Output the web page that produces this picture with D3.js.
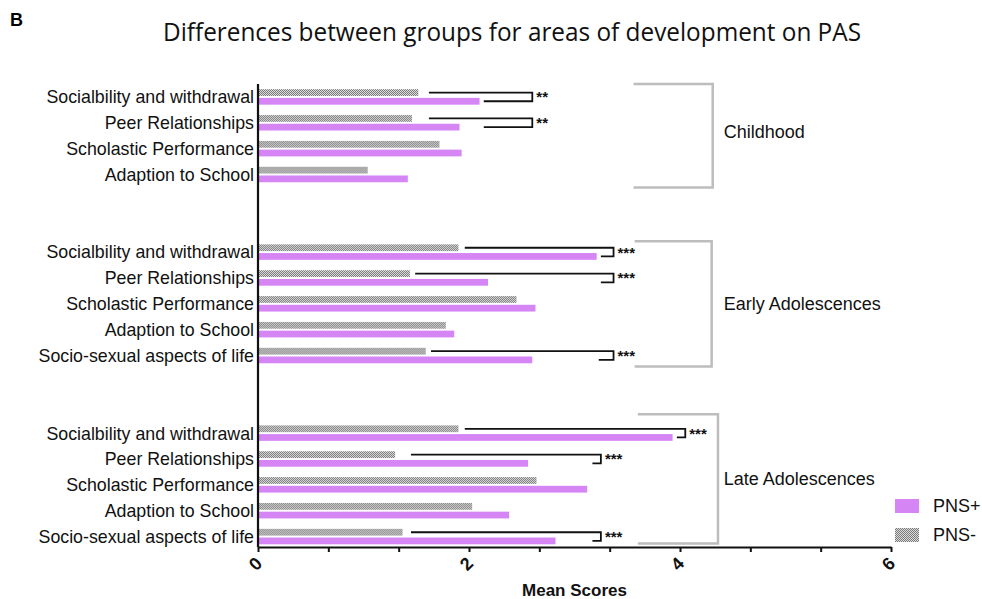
<!DOCTYPE html>
<html>
<head>
<meta charset="utf-8">
<script src="https://cdn.jsdelivr.net/npm/d3@7"></script>
<style>
  body { margin: 0; background: #fff; }
  text { font-family: "Liberation Sans", Arial, sans-serif; }
</style>
</head>
<body>
<script>
// data
const groups = ["Childhood", "Early Adolescences", "Late Adolescences"];
const rowLabels = [
  "Socialbility and withdrawal", "Peer Relationships", "Scholastic Performance", "Adaption to School",
  "Socialbility and withdrawal", "Peer Relationships", "Scholastic Performance", "Adaption to School", "Socio-sexual aspects of life",
  "Socialbility and withdrawal", "Peer Relationships", "Scholastic Performance", "Adaption to School", "Socio-sexual aspects of life"
];
const rowGroup = [0, 0, 0, 0, 1, 1, 1, 1, 1, 2, 2, 2, 2, 2];
const pnsPlus  = [2.10, 1.91, 1.93, 1.42, 3.21, 2.18, 2.63, 1.86, 2.60, 3.93, 2.56, 3.12, 2.38, 2.82];
const pnsMinus = [1.52, 1.46, 1.72, 1.04, 1.90, 1.44, 2.45, 1.78, 1.59, 1.90, 1.30, 2.64, 2.03, 1.37];

// significance brackets (row index, line start above, bracket x, line start below, stars)
const sigRow    = [0, 1, 4, 5, 8, 9, 10, 13];
const sigTop    = [1.62, 1.62, 1.96, 1.49, 1.64, 1.96, 1.45, 1.45];
const sigX      = [2.60, 2.60, 3.37, 3.37, 3.37, 4.05, 3.25, 3.25];
const sigBottom = [2.14, 2.14, 3.25, 3.25, 3.23, 3.97, 3.17, 3.17];
const sigLabel  = ["**", "**", "***", "***", "***", "***", "***", "***"];

const groupBracketStart = [3.56, 3.57, 3.60];
const groupBracketEnd   = [4.31, 4.30, 4.36];

const xTicks = d3.range(0, 6.001, 2 / 3);

const width = 982, height = 599;
const pink = "#d685f5";

const svg = d3.select("body").append("svg")
  .attr("width", width)
  .attr("height", height);

const pat = svg.append("defs").append("pattern")
  .attr("id", "dots")
  .attr("width", 2).attr("height", 2)
  .attr("patternUnits", "userSpaceOnUse");
pat.append("rect").attr("width", 2).attr("height", 2).attr("fill", "#dcdcdc");
pat.append("rect").attr("width", 1).attr("height", 1).attr("fill", "#7a7a7a");
pat.append("rect").attr("x", 1).attr("y", 1).attr("width", 1).attr("height", 1).attr("fill", "#7a7a7a");

// build slots with two blank rows between groups
const slots = [];
rowLabels.forEach((l, i) => {
  if (i > 0 && rowGroup[i] !== rowGroup[i - 1]) {
    slots.push("gap" + i + "a", "gap" + i + "b");
  }
  slots.push("r" + i);
});

const x = d3.scaleLinear().domain([0, 6]).range([258, 891]);
const y = d3.scaleBand().domain(slots).range([84, 549.5]).padding(0);
const sub = d3.scaleBand().domain(["minus", "plus"])
  .range([5.2, y.bandwidth() - 5.2]).paddingInner(0.22);

const rows = rowLabels.map((label, i) => ({
  i, label, plus: pnsPlus[i], minus: pnsMinus[i], key: "r" + i
}));

// title
svg.append("text")
  .attr("x", 10).attr("y", 26)
  .attr("font-weight", "bold").attr("font-size", 18)
  .text("B");

svg.append("text")
  .attr("x", 512).attr("y", 41)
  .attr("text-anchor", "middle")
  .attr("font-size", 25)
  .attr("textLength", 698)
  .attr("lengthAdjust", "spacingAndGlyphs")
  .style("font-family", "'Open Sans', sans-serif")
  .attr("fill", "#111")
  .text("Differences between groups for areas of development on PAS");

// bars
const rowG = svg.append("g").selectAll("g")
  .data(rows)
  .enter().append("g")
  .attr("transform", d => `translate(0,${y(d.key)})`);

rowG.append("rect")
  .attr("x", x(0))
  .attr("y", sub("minus"))
  .attr("width", d => x(d.minus) - x(0))
  .attr("height", sub.bandwidth())
  .attr("fill", "url(#dots)");

rowG.append("rect")
  .attr("x", x(0))
  .attr("y", sub("plus"))
  .attr("width", d => x(d.plus) - x(0))
  .attr("height", sub.bandwidth())
  .attr("fill", pink);

// category labels
rowG.append("text")
  .attr("x", x(0) - 4)
  .attr("y", y.bandwidth() / 2)
  .attr("dy", "0.36em")
  .attr("text-anchor", "end")
  .attr("font-size", 17.8)
  .attr("fill", "#111")
  .text(d => d.label);

// significance brackets
const sig = sigRow.map((r, k) => ({
  r, top: sigTop[k], bx: sigX[k], bottom: sigBottom[k], label: sigLabel[k]
}));

const sigG = svg.append("g").selectAll("g")
  .data(sig)
  .enter().append("g")
  .attr("transform", d => `translate(0,${y("r" + d.r)})`);

sigG.append("path")
  .attr("fill", "none")
  .attr("stroke", "#111")
  .attr("stroke-width", 1.8)
  .attr("d", d => {
    const y1 = sub("minus") + sub.bandwidth() / 2;
    const y2 = sub("plus") + sub.bandwidth() / 2;
    return `M${x(d.top)},${y1}H${x(d.bx)}V${y2}H${x(d.bottom)}`;
  });

sigG.append("text")
  .attr("x", d => x(d.bx) + 4)
  .attr("y", y.bandwidth() / 2 + 5.5)
  .attr("font-size", 15)
  .attr("font-weight", "bold")
  .attr("fill", "#111")
  .text(d => d.label);

// group brackets (small pixel nudges to sit like the original)
const bracketNudge = [[0, 0], [2, -2], [-6, -6]];
const labelX = x(groupBracketEnd[0]) + 11;
groups.forEach((g, gi) => {
  const idx = rowGroup.map((v, i) => v === gi ? i : -1).filter(i => i >= 0);
  const y0 = y("r" + idx[0]) + bracketNudge[gi][0];
  const y1 = y("r" + idx[idx.length - 1]) + y.bandwidth() + bracketNudge[gi][1];
  svg.append("path")
    .attr("fill", "none")
    .attr("stroke", "#bdbdbd")
    .attr("stroke-width", 2.5)
    .attr("d", `M${x(groupBracketStart[gi])},${y0}H${x(groupBracketEnd[gi])}V${y1}H${x(groupBracketStart[gi])}`);
  svg.append("text")
    .attr("x", labelX)
    .attr("y", (y0 + y1) / 2 - (gi === 0 ? 4 : 0))
    .attr("dy", "0.36em")
    .attr("font-size", 18)
    .attr("fill", "#111")
    .text(g);
});

// axes
const xAxis = svg.append("g")
  .attr("transform", `translate(0,${y.range()[1] - 2.5})`)
  .call(d3.axisBottom(x)
    .tickValues(xTicks)
    .tickSize(5)
    .tickSizeOuter(0)
    .tickFormat(d => Math.abs(d - Math.round(d)) < 1e-6 && Math.round(d) % 2 === 0 ? d3.format("d")(Math.round(d)) : ""));

xAxis.select(".domain").attr("stroke", "#111").attr("stroke-width", 2.2);
xAxis.selectAll(".tick line").attr("stroke", "#111").attr("stroke-width", 2);
xAxis.selectAll(".tick text")
  .attr("font-size", 18)
  .attr("font-weight", "bold")
  .attr("fill", "#111")
  .attr("y", 0)
  .attr("dy", 0)
  .attr("transform", "translate(-3,17) rotate(-45)")
  .attr("text-anchor", "middle")
  .attr("dominant-baseline", "central");

svg.append("line")
  .attr("x1", x(0)).attr("x2", x(0))
  .attr("y1", y.range()[0]).attr("y2", y.range()[1] - 2.5)
  .attr("stroke", "#111")
  .attr("stroke-width", 2.2);

svg.append("text")
  .attr("x", (x.range()[0] + x.range()[1]) / 2)
  .attr("y", 596)
  .attr("text-anchor", "middle")
  .attr("font-weight", "bold")
  .attr("font-size", 17)
  .attr("fill", "#111")
  .text("Mean Scores");

// legend
const legend = svg.append("g").attr("transform", "translate(895,499)");
const legendItems = [["PNS+", pink], ["PNS-", "url(#dots)"]];
legendItems.forEach(([name, fill], k) => {
  legend.append("rect")
    .attr("x", 0).attr("y", k * 29)
    .attr("width", 24).attr("height", 14)
    .attr("fill", fill);
  legend.append("text")
    .attr("x", 38).attr("y", k * 29 + 7)
    .attr("dy", "0.36em")
    .attr("font-size", 18)
    .attr("fill", "#111")
    .text(name);
});
</script>
</body>
</html>
